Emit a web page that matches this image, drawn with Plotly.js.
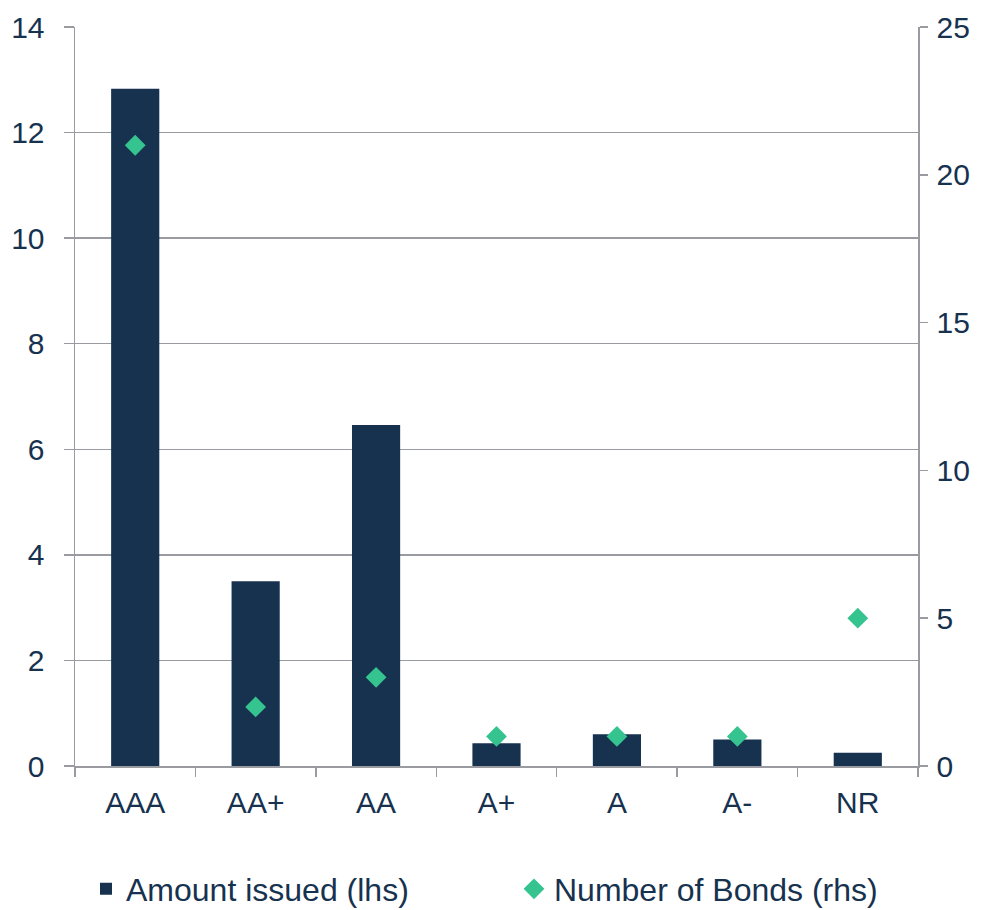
<!DOCTYPE html>
<html><head><meta charset="utf-8">
<script src="https://cdn.plot.ly/plotly-3.0.1.min.js"></script>
<style>html,body{margin:0;padding:0;background:#fff;}#chart{width:993px;height:910px;}</style>
</head><body><div id="chart"></div>
<script>
const categories = ["AAA","AA+","AA","A+","A","A-","NR"];
const amountIssued = [12.83, 3.50, 6.46, 0.43, 0.60, 0.50, 0.25];
const numberOfBonds = [21, 2, 3, 1, 1, 1, 5];
const leftTicks = [0,2,4,6,8,10,12,14];
const rightTicks = [0,5,10,15,20,25];

const navy = '#16324f';
const green = '#35c38f';
const gray = '#9a9ba1';
const font = {family: '"Liberation Sans", Arial, sans-serif', size: 30, color: '#17324f'};
const legendFont = {family: '"Liberation Sans", Arial, sans-serif', size: 32, color: '#17324f'};

const traces = [
  {type:'bar', x:categories, y:amountIssued, name:'Amount issued (lhs)', marker:{color:navy}, yaxis:'y', legend:'legend'},
  {type:'scatter', mode:'markers', x:categories, y:numberOfBonds, name:'Number of Bonds (rhs)',
   marker:{symbol:'diamond', color:green, size:16}, yaxis:'y2', legend:'legend2'}
];

const legBase = {orientation:'h', xref:'container', yref:'container', xanchor:'left', yanchor:'middle', y:0.023,
                 font:legendFont, itemwidth:30, borderwidth:0, bgcolor:'rgba(0,0,0,0)'};

const layout = {
  width:993, height:910,
  margin:{l:75, r:75, t:27, b:144},
  paper_bgcolor:'#fff', plot_bgcolor:'#fff',
  font:font,
  bargap:0.6,
  showlegend:true,
  legend:Object.assign({}, legBase, {x:86/993}),
  legend2:Object.assign({}, legBase, {x:514/993}),
  xaxis:{type:'category', range:[-0.5,6.5], tickson:'boundaries', ticks:'outside', ticklen:9, tickcolor:gray, tickwidth:1.5,
         showline:true, linecolor:gray, linewidth:1.5, showgrid:false, tickfont:font, fixedrange:true, automargin:false, ticklabelstandoff:9},
  yaxis:{range:[0,14], tickvals:leftTicks, ticks:'outside', ticklen:10, tickcolor:gray, tickwidth:1.5, automargin:false, ticklabelstandoff:13,
         showline:true, linecolor:gray, linewidth:1.5, showgrid:true, gridcolor:gray, gridwidth:1.5, zeroline:false, tickfont:font},
  yaxis2:{range:[0,25], tickvals:rightTicks, overlaying:'y', side:'right', ticks:'outside', ticklen:8, tickcolor:gray, tickwidth:1.5, automargin:false, ticklabelstandoff:3,
          showline:true, linecolor:gray, linewidth:1.5, showgrid:false, zeroline:false, tickfont:font}
};
Plotly.newPlot('chart', traces, layout, {staticPlot:true, displayModeBar:false});
</script></body></html>
